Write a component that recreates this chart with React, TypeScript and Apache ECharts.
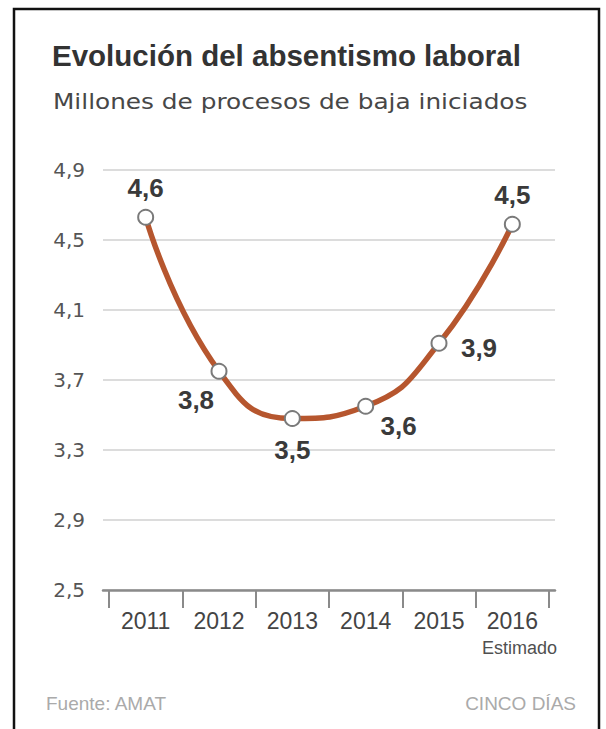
import React, { useEffect, useRef } from "react";
import * as echarts from "echarts";

const years = ["2011", "2012", "2013", "2014", "2015", "2016"];
const values = [4.63, 3.75, 3.48, 3.55, 3.91, 4.59];
const valueLabels = ["4,6", "3,8", "3,5", "3,6", "3,9", "4,5"];
const labelSides = ["top", "bottomLeft", "bottom", "bottomRight", "right", "top"];
const yTicks = { min: 2.5, max: 4.9, interval: 0.4 };

const title = "Evolución del absentismo laboral";
const subtitle = "Millones de procesos de baja iniciados";
const note = "Estimado";
const source = "Fuente: AMAT";
const brand = "CINCO DÍAS";

const SANS = "'Liberation Sans', Arial, Helvetica, sans-serif";
const WIDE = "'DejaVu Sans', Verdana, sans-serif";

const sideOffsets: Record<string, number[]> = {
  top: [0, -29],
  bottomLeft: [-23, 29],
  bottom: [0, 31],
  bottomRight: [33, 20],
  right: [40, 5],
};

export default function App() {
  const ref = useRef<HTMLDivElement>(null);
  useEffect(() => {
    const chart = echarts.init(ref.current!, null, { renderer: "svg" });
    const fmt = (v: number) => v.toFixed(1).replace(".", ",");
    chart.setOption({
      animation: false,
      backgroundColor: "#ffffff",
      grid: [
        { left: 109, right: 57, top: 170, bottom: 139 },
        { left: 103, right: 51, top: 170, bottom: 139 },
      ],
      xAxis: [
        {
          type: "category",
          gridIndex: 0,
          data: years,
          boundaryGap: true,
          axisLine: { show: false },
          axisTick: { show: true, length: 18, lineStyle: { color: "#8a8a8a", width: 2 } },
          axisLabel: { fontSize: 23, color: "#444", margin: 19, fontFamily: SANS },
          splitLine: { show: false },
          z: 3,
        },
        {
          type: "category",
          gridIndex: 1,
          data: years,
          axisLine: { show: true, lineStyle: { color: "#8a8a8a", width: 2.5 } },
          axisTick: { show: false },
          axisLabel: { show: false },
          splitLine: { show: false },
          z: 2,
        },
      ],
      yAxis: [
        {
          type: "value",
          gridIndex: 0,
          min: yTicks.min,
          max: yTicks.max,
          interval: yTicks.interval,
          show: false,
        },
        {
          type: "value",
          gridIndex: 1,
          min: yTicks.min,
          max: yTicks.max,
          interval: yTicks.interval,
          axisLine: { show: false },
          axisTick: { show: false },
          axisLabel: { fontSize: 20, color: "#555", margin: 18, fontFamily: WIDE, formatter: fmt },
          splitLine: { show: true, lineStyle: { color: "#dcdcdc", width: 2 } },
        },
      ],
      series: [
        {
          type: "line",
          xAxisIndex: 0,
          yAxisIndex: 0,
          smooth: 0.5,
          z: 5,
          lineStyle: { color: "#b6562e", width: 5.5 },
          symbol: "circle",
          symbolSize: 15,
          itemStyle: { color: "#ffffff", borderColor: "#7a7a7a", borderWidth: 2 },
          data: values.map((v, i) => ({
            value: v,
            label: {
              show: true,
              position: "inside",
              offset: sideOffsets[labelSides[i]],
              formatter: valueLabels[i],
              fontSize: 26,
              fontWeight: "bold",
              color: "#3a3a3a",
              fontFamily: SANS,
            },
          })),
        },
      ],
      graphic: [
        {
          type: "polyline",
          shape: { points: [[14, 729], [14, 9], [599, 9], [599, 729]] },
          style: { stroke: "#111", lineWidth: 2.5, fill: "none" },
          silent: true,
        },
        {
          type: "text",
          x: 52,
          y: 55,
          style: {
            text: title,
            font: `bold 29.5px ${SANS}`,
            fill: "#333",
            textVerticalAlign: "middle",
          },
        },
        {
          type: "text",
          x: 53,
          y: 102,
          scaleX: 1.18,
          style: {
            text: subtitle,
            font: `21px ${WIDE}`,
            fill: "#474747",
            textVerticalAlign: "middle",
          },
        },
        {
          type: "text",
          x: 557,
          y: 648,
          style: {
            text: note,
            font: `18px ${SANS}`,
            fill: "#505050",
            textAlign: "right",
            textVerticalAlign: "middle",
          },
        },
        {
          type: "text",
          x: 46,
          y: 703,
          style: {
            text: source,
            font: `19px ${SANS}`,
            fill: "#aaa",
            textVerticalAlign: "middle",
          },
        },
        {
          type: "text",
          x: 576,
          y: 703,
          style: {
            text: brand,
            font: `19px ${SANS}`,
            fill: "#aaa",
            textAlign: "right",
            textVerticalAlign: "middle",
          },
        },
      ],
    });
    return () => chart.dispose();
  }, []);
  return (
    <div
      ref={ref}
      style={{ position: "fixed", left: 0, top: 0, width: 606, height: 729 }}
    />
  );
}
